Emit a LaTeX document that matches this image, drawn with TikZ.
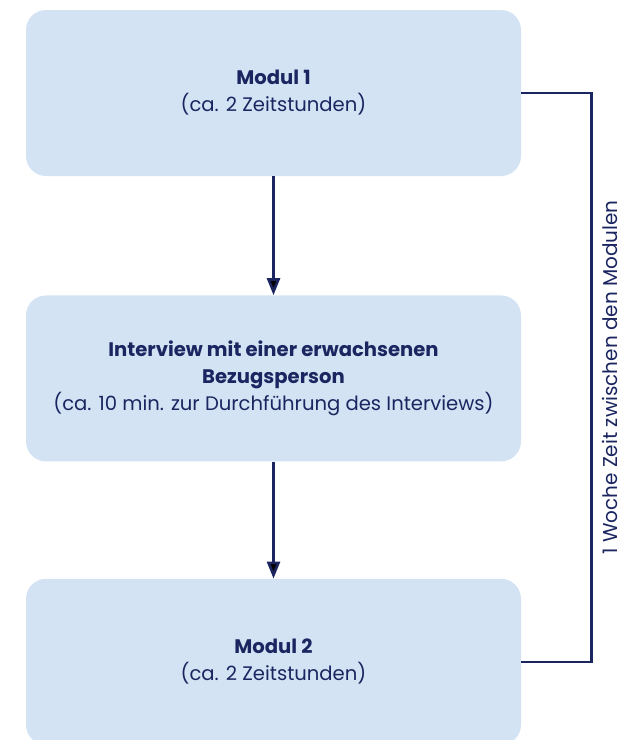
\documentclass[tikz,border=0pt]{standalone}
\usepackage{fontspec}
\setmainfont{Poppins}
\usetikzlibrary{arrows.meta,positioning}

\definecolor{boxblue}{HTML}{D3E3F4}
\definecolor{navy}{HTML}{1B2560}

\tikzset{
  modbox/.style={rectangle,rounded corners=20pt,fill=boxblue,text=navy,
    minimum width=495pt,minimum height=166pt,align=center,
    font=\fontsize{19.6pt}{27pt}\selectfont},
  link/.style={draw=navy,line width=2.6pt}
}

\begin{document}
\begin{tikzpicture}[x=1pt,y=-1pt,>={Triangle[length=17pt,width=13pt]},node distance=119pt]
  \clip (0,0) rectangle (633,740);
  \node[modbox] (mod1) at (273.5,93) {\textbf{Modul 1}\\(ca. 2 Zeitstunden)};
  \node[modbox] (interview) [below=of mod1] {\textbf{Interview mit einer erwachsenen}\\\textbf{Bezugsperson}\\(ca. 10 min. zur Durchführung des Interviews)};
  \node[modbox] (mod2) [below=117pt of interview] {\textbf{Modul 2}\\(ca. 2 Zeitstunden)};

  \coordinate (wk) at ([xshift=70pt]mod1.east);

  \path[link,->]
  (mod1) edge (interview)
  (interview) edge (mod2)
  ;
  \draw[link] (mod1.east) -- (wk) |- (mod2.east)
    node[pos=0.25,rotate=90,anchor=north,inner sep=0pt,yshift=-10pt,text=navy,
      font=\fontsize{20pt}{22pt}\selectfont] (wklabel)
      {1 Woche Zeit zwischen den Modulen};
\end{tikzpicture}
\end{document}
